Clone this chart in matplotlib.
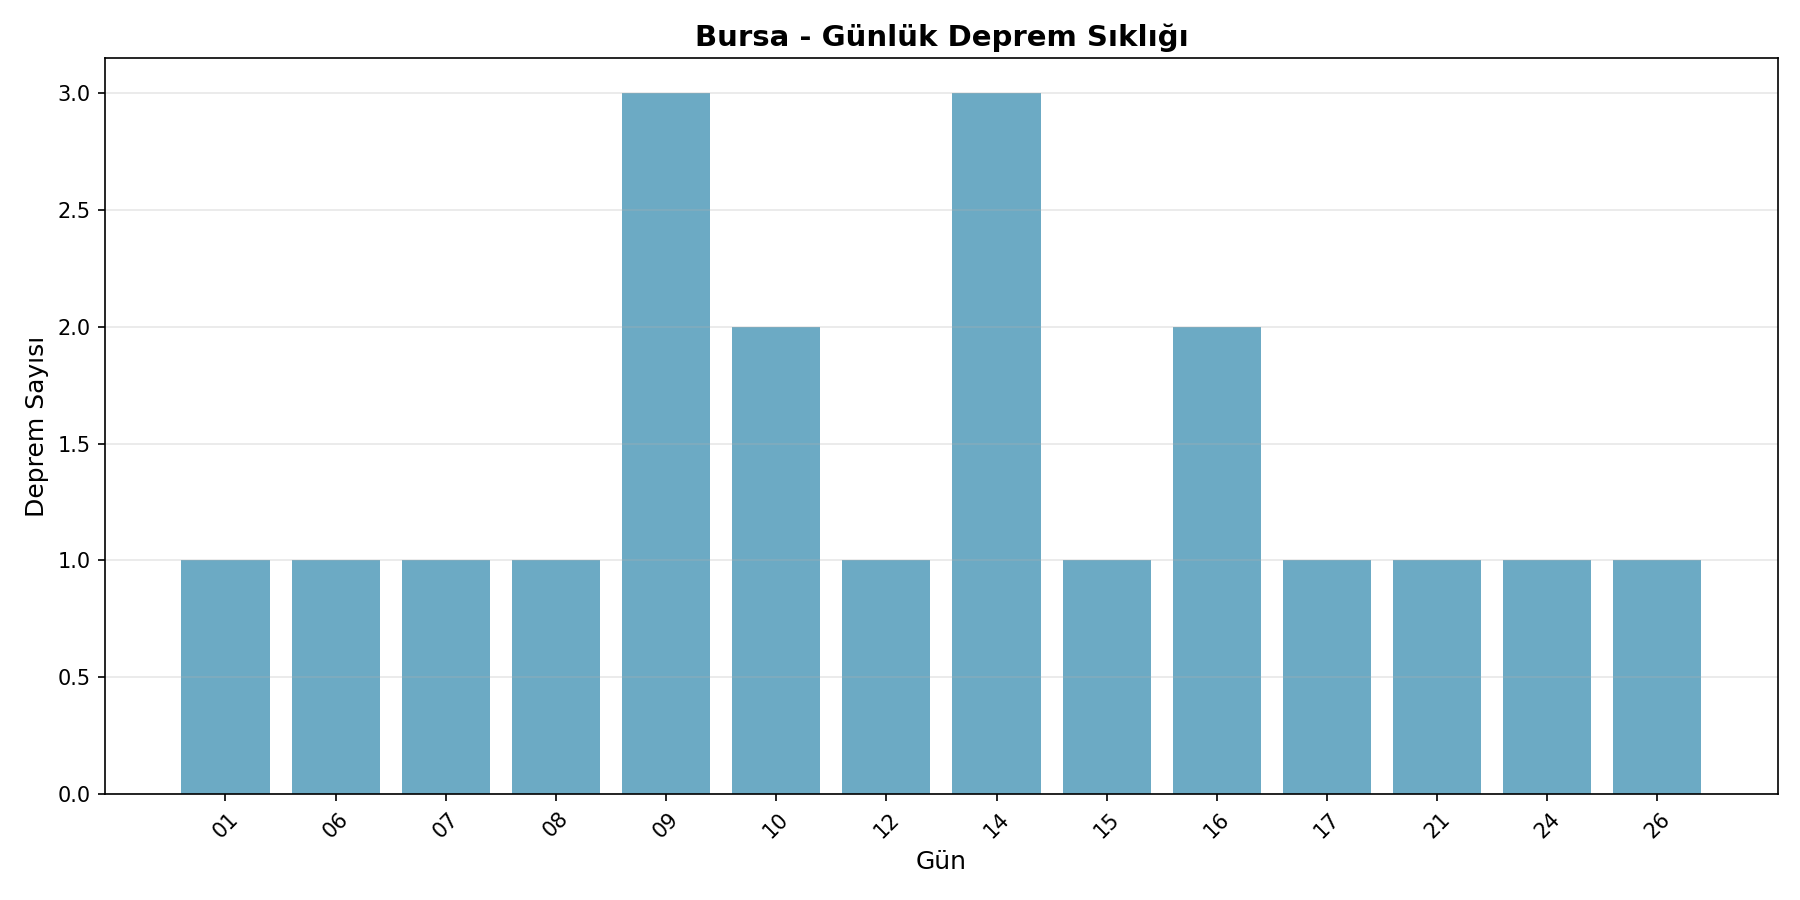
import matplotlib
matplotlib.use("Agg")
import matplotlib.pyplot as plt

gunler = ['01', '06', '07', '08', '09', '10', '12', '14', '15', '16', '17', '21', '24', '26']
deprem_sayisi = [1, 1, 1, 1, 3, 2, 1, 3, 1, 2, 1, 1, 1, 1]

fig, ax = plt.subplots(figsize=(12, 6))
ax.bar(gunler, deprem_sayisi, color='#2E86AB', alpha=0.7)
ax.set_title('Bursa - Günlük Deprem Sıklığı', fontsize=14, fontweight='bold')
ax.set_xlabel('Gün', fontsize=12)
ax.set_ylabel('Deprem Sayısı', fontsize=12)
plt.xticks(rotation=45)
ax.grid(True, axis='y', alpha=0.3)
plt.tight_layout()
plt.savefig('out.png', dpi=150)
